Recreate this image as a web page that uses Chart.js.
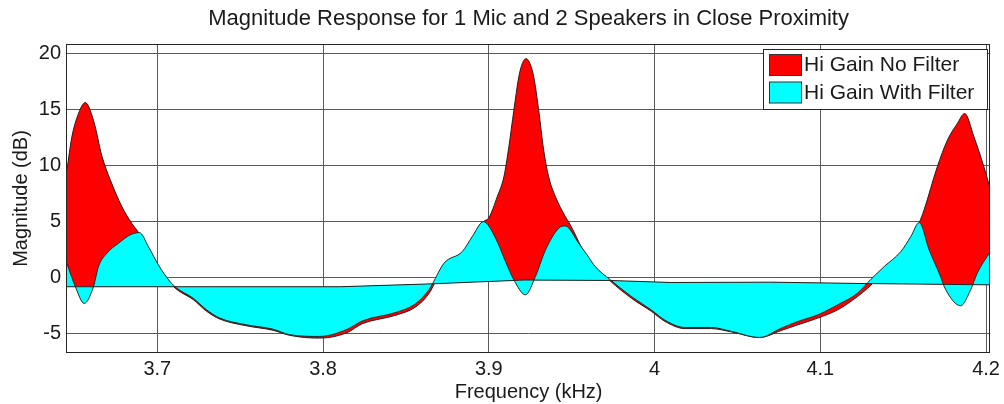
<!DOCTYPE html>
<html><head><meta charset="utf-8">
<script src="https://cdn.jsdelivr.net/npm/chart.js@4.4.0/dist/chart.umd.min.js"></script>
<style>html,body{margin:0;padding:0;background:#fff;}canvas{display:block;}</style>
</head><body>
<canvas id="c" width="1004" height="404"></canvas>
<script>
const chartTitle = 'Magnitude Response for 1 Mic and 2 Speakers in Close Proximity';
const xTitle = 'Frequency (kHz)';
const yTitle = 'Magnitude (dB)';
const seriesNames = ['Hi Gain No Filter', 'Hi Gain With Filter'];
const xTicks = [3.7, 3.8, 3.9, 4.0, 4.1, 4.2];
const xTickLabels = ['3.7', '3.8', '3.9', '4', '4.1', '4.2'];
const yTicks = [-5, 0, 5, 10, 15, 20];
const yTickLabels = ['-5', '0', '5', '10', '15', '20'];

// Hi Gain No Filter (red)
const redF = [3.6455, 3.6484, 3.6524, 3.6565, 3.6615, 3.6666, 3.6716, 3.6786, 3.6846, 3.6889,
  3.6946, 3.7006, 3.7076, 3.7117, 3.7216, 3.7297, 3.7377, 3.7538, 3.7698, 3.7798,
  3.7978, 3.8139, 3.8239, 3.8440, 3.8560, 3.8640, 3.8671, 3.8730, 3.8840, 3.8900,
  3.8968, 3.9000, 3.9051, 3.9091, 3.9121, 3.9151, 3.9181, 3.9205, 3.9225, 3.9245,
  3.9271, 3.9301, 3.9331, 3.9361, 3.9402, 3.9462, 3.9492, 3.9592, 3.9733, 3.9862,
  3.9982, 4.0063, 4.0183, 4.0343, 4.0464, 4.0634, 4.0764, 4.0865, 4.0985, 4.1105,
  4.1225, 4.1285, 4.1316, 4.1386, 4.1486, 4.1546, 4.1597, 4.1626, 4.1706, 4.1767,
  4.1827, 4.1871, 4.1927, 4.1987, 4.2025];
const redDb = [9.6, 12.5, 14.6, 15.6, 14.0, 10.8, 8.7, 6.3, 4.8, 3.95,
  2.6, 0.95, -0.5, -1.1, -2.0, -3.05, -3.75, -4.35, -4.75, -5.2,
  -5.45, -5.0, -4.15, -3.4, -2.65, -1.45, -0.6, 1.1, 2.15, 3.5,
  4.96, 5.3, 7.19, 8.97, 11.65, 14.9, 17.9, 19.2, 19.52, 19.2,
  17.9, 14.9, 11.35, 8.97, 7.19, 5.4, 4.66, 1.8, -0.35, -1.9,
  -3.07, -3.96, -4.6, -4.6, -4.9, -5.4, -4.77, -4.26, -3.66, -2.92,
  -1.73, -1.0, -0.55, 0.8, 2.1, 3.5, 4.87, 6.0, 9.86, 12.24,
  13.73, 14.62, 12.54, 9.86, 7.9];

// Hi Gain With Filter (cyan)
const cyanF = [3.6455, 3.6505, 3.6559, 3.6615, 3.6645, 3.6696, 3.6766, 3.6836, 3.6892, 3.6946,
  3.7006, 3.7076, 3.7117, 3.7216, 3.7297, 3.7377, 3.7538, 3.7698, 3.7798, 3.7978,
  3.8139, 3.8239, 3.8440, 3.8560, 3.8640, 3.8660, 3.8730, 3.8840, 3.8900, 3.8968,
  3.9041, 3.9101, 3.9151, 3.9221, 3.9281, 3.9342, 3.9422, 3.9462, 3.9542, 3.9592,
  3.9642, 3.9733, 3.9862, 3.9982, 4.0063, 4.0183, 4.0343, 4.0464, 4.0634, 4.0764,
  4.0865, 4.0985, 4.1105, 4.1225, 4.1285, 4.1386, 4.1486, 4.1546, 4.1597, 4.1657,
  4.1717, 4.1757, 4.1847, 4.1907, 4.1947, 4.2025];
const cyanDb = [1.2, -0.84, -2.35, -0.84, 0.95, 2.14, 3.03, 3.77, 3.98, 2.73,
  1.1, -0.39, -0.98, -1.88, -2.92, -3.66, -4.26, -4.65, -5.14, -5.3,
  -4.7, -3.9, -3.15, -2.35, -1.1, -0.6, 1.25, 2.28, 3.62, 4.96,
  3.48, 1.39, -0.24, -1.58, 0.05, 2.43, 4.37, 4.57, 3.03, 2.0,
  0.95, -0.24, -1.75, -2.95, -3.85, -4.5, -4.5, -4.85, -5.39, -4.56,
  -3.96, -3.37, -2.47, -1.43, -0.5, 0.95, 2.28, 3.62, 4.87, 2.43,
  0.36, -1.13, -2.56, -1.13, 0.36, 2.28];

// common baseline of both filled areas
const baseF = [3.6455, 3.8100, 3.8660, 3.9000, 3.9220, 3.9730, 4.0100, 4.0700, 4.1300, 4.2025];
const baseDb = [-0.86, -0.86, -0.6, -0.39, -0.26, -0.3, -0.48, -0.45, -0.58, -0.69];

const seriesColors = ['#ff0000', '#00ffff'];
const pts = (xs, ys) => xs.map((x, i) => ({x: x, y: ys[i]}));

Chart.defaults.font.family = '"Liberation Sans", Arial, sans-serif';
Chart.defaults.color = '#1a1a1a';

const framePlugin = {
  id: 'frame',
  afterDatasetsDraw(chart) {
    const a = chart.chartArea, ctx = chart.ctx;
    ctx.save();
    ctx.strokeStyle = '#262626';
    ctx.lineWidth = 1;
    ctx.strokeRect(Math.round(a.left) - 0.5, Math.round(a.top) + 0.5,
      Math.round(a.right) - Math.round(a.left), Math.round(a.bottom) - Math.round(a.top) - 1);
    ctx.restore();
  }
};

const legendPlugin = {
  id: 'boxLegend',
  afterDraw(chart) {
    const ctx = chart.ctx;
    ctx.save();
    const bx = 763.5, by = 49.5, bw = 224, bh = 60;
    ctx.fillStyle = '#ffffff';
    ctx.fillRect(bx, by, bw, bh);
    ctx.strokeStyle = '#262626';
    ctx.lineWidth = 1;
    ctx.strokeRect(bx, by, bw, bh);
    ctx.font = '21px "Liberation Sans", Arial, sans-serif';
    ctx.textBaseline = 'middle';
    ctx.textAlign = 'left';
    for (let i = 0; i < seriesNames.length; i++) {
      const sy = 54.5 + i * 27.5;
      ctx.fillStyle = seriesColors[i];
      ctx.fillRect(769.5, sy, 32, 21);
      ctx.strokeStyle = '#333';
      ctx.strokeRect(769.5, sy, 32, 21);
      ctx.fillStyle = '#1a1a1a';
      ctx.fillText(seriesNames[i], 804, sy + 11);
    }
    ctx.restore();
  }
};

new Chart(document.getElementById('c'), {
  type: 'line',
  data: {
    datasets: [
      {
        label: seriesNames[0], data: pts(redF, redDb), order: 2,
        borderColor: '#2a1a1a', borderWidth: 1, backgroundColor: seriesColors[0],
        fill: 2, pointRadius: 0, cubicInterpolationMode: 'monotone'
      },
      {
        label: seriesNames[1], data: pts(cyanF, cyanDb), order: 1,
        borderColor: '#1a2a2a', borderWidth: 1, backgroundColor: seriesColors[1],
        fill: 2, pointRadius: 0, cubicInterpolationMode: 'monotone'
      },
      {
        label: 'baseline', data: pts(baseF, baseDb), order: 0,
        borderColor: '#222', borderWidth: 1, fill: false, pointRadius: 0, tension: 0
      }
    ]
  },
  options: {
    responsive: false,
    animation: false,
    events: [],
    layout: {padding: {left: 0, right: 11, top: 0, bottom: 0}},
    plugins: {
      legend: {display: false},
      tooltip: {enabled: false},
      title: {
        display: true, text: chartTitle, fullSize: false,
        color: '#1a1a1a',
        font: {size: 22, weight: 'normal'},
        padding: {top: 6, bottom: 11.6}
      }
    },
    scales: {
      x: {
        type: 'linear', position: 'bottom', min: 3.6455, max: 4.2025,
        grid: {color: '#5a5a5a', lineWidth: 1, drawTicks: false},
        border: {display: false},
        ticks: {
          padding: 4, font: {size: 20}, color: '#1a1a1a', maxRotation: 0, autoSkip: false,
          callback: (v, i) => xTickLabels[i]
        },
        afterBuildTicks: s => { s.ticks = xTicks.map(v => ({value: v})); },
        afterFit: s => { s.height = 51; },
        title: {display: true, text: xTitle, font: {size: 20}, color: '#1a1a1a', padding: {top: 0, bottom: 0}}
      },
      y: {
        type: 'linear', min: -6.78, max: 20.83,
        grid: {color: '#5a5a5a', lineWidth: 1, drawTicks: false},
        border: {display: false},
        ticks: {
          padding: 6, font: {size: 20}, color: '#1a1a1a', autoSkip: false,
          callback: (v, i) => yTickLabels[i]
        },
        afterBuildTicks: s => { s.ticks = yTicks.map(v => ({value: v})); },
        afterFit: s => { s.width = 67; },
        title: {display: true, text: yTitle, font: {size: 20}, color: '#1a1a1a', padding: {top: 9, bottom: 0}}
      }
    }
  },
  plugins: [framePlugin, legendPlugin]
});
</script>
</body></html>
